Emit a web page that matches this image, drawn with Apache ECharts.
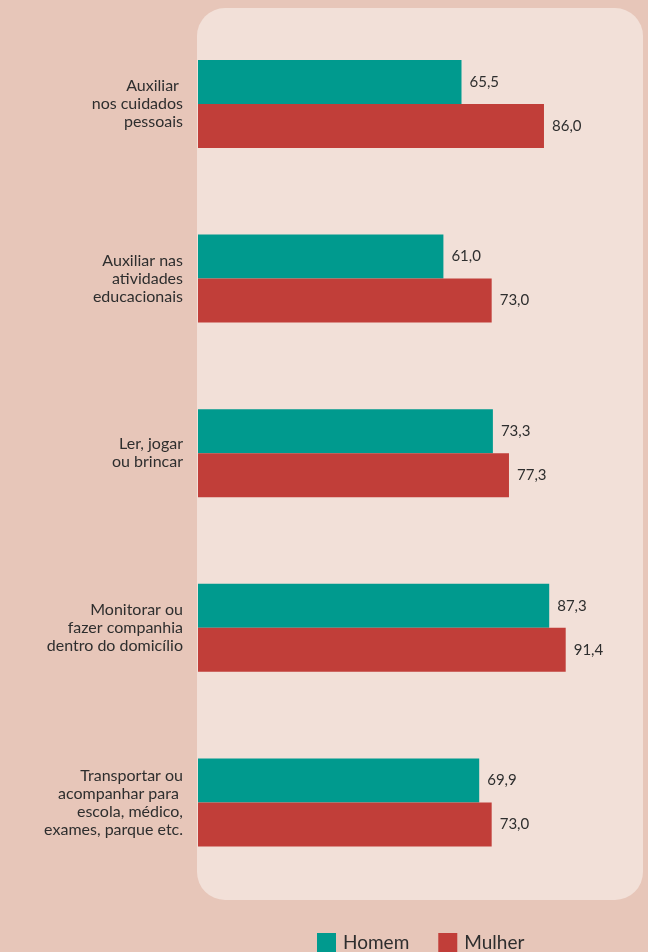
<!DOCTYPE html>
<html>
<head>
<meta charset="UTF-8">
<script type="text/javascript" src="https://cdn.jsdelivr.net/npm/echarts@6/dist/echarts.min.js"></script>
<style>
  html, body { margin: 0; padding: 0; background: #E7C6B9; }
</style>
</head>
<body>
<div id="chartmain" style="width:648px; height:952px;"></div>
<script type="text/javascript">
  // categorias (de cima para baixo)
  var categorias = [
    'Auxiliar \nnos cuidados\npessoais',
    'Auxiliar nas\natividades\neducacionais',
    'Ler, jogar\nou brincar',
    'Monitorar ou\nfazer companhia\ndentro do domicílio',
    'Transportar ou\nacompanhar para \nescola, médico,\nexames, parque etc.'
  ];
  var homem = [65.5, 61.0, 73.3, 87.3, 69.9];
  var mulher = [86.0, 73.0, 77.3, 91.4, 73.0];

  function fmt(p) {
    return p.value.toFixed(1).replace('.', ',');
  }

  var option = {
    backgroundColor: '#E7C6B9',
    animation: false,
    textStyle: { fontFamily: 'Lato, "Noto Sans", sans-serif' },
    graphic: [{
      type: 'rect',
      z: -10,
      shape: { x: 197, y: 8, width: 446, height: 892, r: 28 },
      style: { fill: '#F2E0D8' }
    }],
    legend: {
      data: ['Homem', 'Mulher'],
      left: 317,
      top: 933,
      padding: 0,
      itemWidth: 19,
      itemHeight: 19,
      itemGap: 29,
      icon: 'rect',
      textStyle: { fontSize: 19, color: '#2e2e2e', padding: [6, 0, 0, 2] }
    },
    grid: { left: 198, top: 16.7, height: 873, width: 402.3 },
    xAxis: {
      type: 'value',
      min: 0,
      max: 100,
      show: false
    },
    yAxis: {
      type: 'category',
      inverse: true,
      data: categorias,
      axisLine: { show: false },
      axisTick: { show: false },
      axisLabel: {
        margin: 15,
        fontSize: 16,
        lineHeight: 18,
        color: '#2e2e2e',
        align: 'right'
      }
    },
    series: [
      {
        name: 'Homem',
        type: 'bar',
        data: homem,
        barWidth: 44,
        barGap: '0%',
        itemStyle: { color: '#009A8E' },
        label: { show: true, position: 'right', distance: 8, fontSize: 15, color: '#2e2e2e', formatter: fmt }
      },
      {
        name: 'Mulher',
        type: 'bar',
        data: mulher,
        barWidth: 44,
        itemStyle: { color: '#C13E39' },
        label: { show: true, position: 'right', distance: 8, fontSize: 15, color: '#2e2e2e', formatter: fmt }
      }
    ]
  };

  var myChart = echarts.init(document.getElementById('chartmain'));
  myChart.setOption(option);
</script>
</body>
</html>
